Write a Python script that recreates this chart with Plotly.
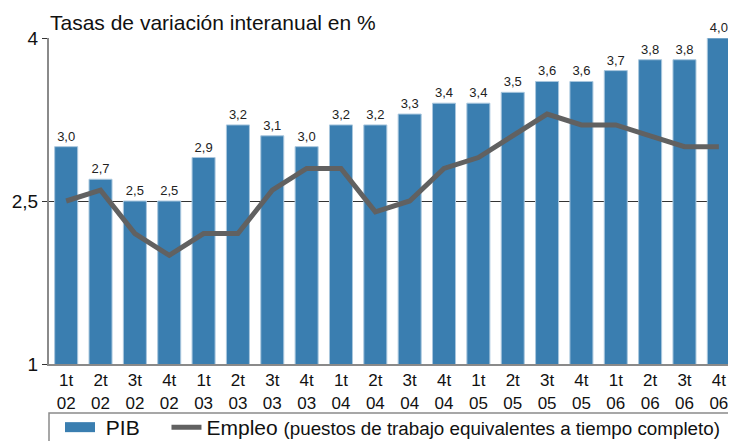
import plotly.graph_objects as go

quarters = ["1t", "2t", "3t", "4t"] * 5
years = ["02"] * 4 + ["03"] * 4 + ["04"] * 4 + ["05"] * 4 + ["06"] * 4
categories = [f"{q}<br>{y}" for q, y in zip(quarters, years)]
pib = [3.0, 2.7, 2.5, 2.5, 2.9, 3.2, 3.1, 3.0, 3.2, 3.2, 3.3, 3.4, 3.4, 3.5, 3.6, 3.6, 3.7, 3.8, 3.8, 4.0]
empleo = [2.5, 2.6, 2.2, 2.0, 2.2, 2.2, 2.6, 2.8, 2.8, 2.4, 2.5, 2.8, 2.9, 3.1, 3.3, 3.2, 3.2, 3.1, 3.0, 3.0]
y_ticks = [1, 2.5, 4]

BLUE = "#3a7eb0"
GREY = "#616161"
FONT = "Liberation Sans"

W, H = 728, 450  # page body has an 8px margin; bottom part falls below the window
T, PH = 30, 326

fig = go.Figure()
fig.add_trace(go.Bar(
    x=categories, y=pib, marker=dict(color=BLUE, line=dict(color="#a9c7de", width=1)),
    text=[f"{v:.1f}".replace(".", ",") for v in pib], textposition="outside",
    textfont=dict(size=13, color="#222", family=FONT), cliponaxis=False,
    showlegend=False, name="PIB",
))
fig.add_trace(go.Scatter(
    x=[None], y=[None], mode="lines", line=dict(color=BLUE, width=15),
    name="\u00a0PIB", legend="legend",
))
fig.add_trace(go.Scatter(
    x=categories, y=empleo, mode="lines", line=dict(color=GREY, width=5),
    name="Empleo <span style='font-size:18.8px'>(puestos de trabajo equivalentes a tiempo completo)</span>",
    legend="legend2",
))

leg_common = dict(orientation="h", xanchor="left", yanchor="top", yref="paper",
                  y=-(399 - T - PH) / PH, font=dict(size=21, family=FONT, color="#111"),
                  bgcolor="rgba(0,0,0,0)")

fig.update_layout(
    width=W, height=H,
    margin=dict(l=41, r=0, t=T, b=H - T - PH),
    paper_bgcolor="white", plot_bgcolor="white",
    separators=",.",
    bargap=0.33,
    font=dict(family=FONT, color="#111"),
    title=dict(text="Tasas de variación interanual en %", x=42 / W, xanchor="left",
               xref="container", y=1 - 7 / H, yanchor="top", yref="container",
               font=dict(size=21, family=FONT, color="#111")),
    xaxis=dict(type="category", showline=True, linecolor="#8a8a8a", linewidth=2,
               ticks="", tickfont=dict(size=17, family=FONT, color="#111"),
               range=[-0.5, 19.5], automargin=False),
    yaxis=dict(range=[1, 4], tickvals=y_ticks, ticktext=["1", "2,5", "4"],
               showline=True, linecolor="#8a8a8a", linewidth=2,
               showgrid=True, gridcolor="#333", gridwidth=1,
               ticks="outside", ticklen=5, tickcolor="#333", automargin=False,
               tickfont=dict(size=19, family=FONT, color="#111"), zeroline=False),
    legend=dict(x=0.016, **leg_common),
    legend2=dict(x=0.171, **leg_common),
    shapes=[dict(type="rect", xref="paper", yref="paper", x0=0, x1=1.02,
                 y0=-0.15, y1=-0.3, line=dict(color="#8a8a8a", width=1.5))],
)

fig.write_html("out.html")
